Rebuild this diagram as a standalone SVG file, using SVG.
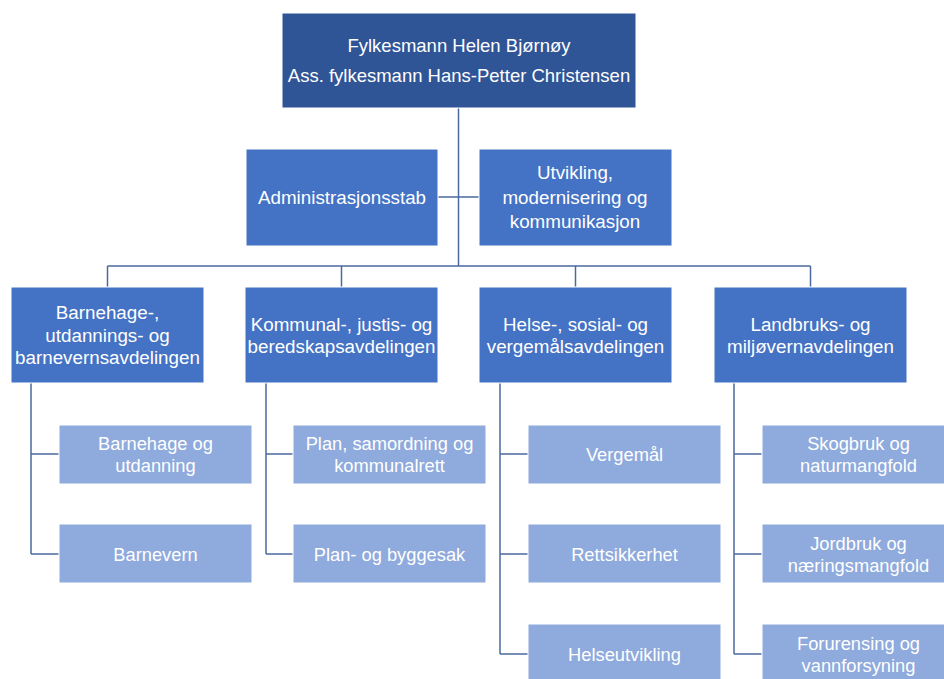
<svg xmlns="http://www.w3.org/2000/svg" width="944" height="679" viewBox="0 0 944 679">
<style>
.top{fill:#2F5597;stroke:#FFFFFF;stroke-width:1}
.dep{fill:#4472C4;stroke:#FFFFFF;stroke-width:1}
.sub{fill:#8FAADC;stroke:#FFFFFF;stroke-width:1}
.lines line{stroke:#4A6A9F;stroke-width:1.5;fill:none}
text{font-family:"Liberation Sans",Arial,sans-serif;fill:#FFFFFF;text-anchor:middle;dominant-baseline:central}
.t{font-size:18.5px}
.d{font-size:18.8px}
.s{font-size:18.3px}
</style>
<rect width="944" height="679" fill="#FFFFFF"/>
<g id="connectors" class="lines">
<line x1="458.5" y1="108" x2="458.5" y2="266"/>
<line x1="438" y1="197" x2="479" y2="197"/>
<line x1="107.5" y1="266" x2="810.5" y2="266"/>
<line x1="107.5" y1="266" x2="107.5" y2="287"/>
<line x1="341.5" y1="266" x2="341.5" y2="287"/>
<line x1="575.5" y1="266" x2="575.5" y2="287"/>
<line x1="810.5" y1="266" x2="810.5" y2="287"/>
<line x1="31" y1="383" x2="31" y2="554"/>
<line x1="31" y1="454" x2="59" y2="454"/>
<line x1="31" y1="554" x2="59" y2="554"/>
<line x1="266" y1="383" x2="266" y2="554"/>
<line x1="266" y1="454" x2="293" y2="454"/>
<line x1="266" y1="554" x2="293" y2="554"/>
<line x1="500" y1="383" x2="500" y2="654"/>
<line x1="500" y1="454" x2="528" y2="454"/>
<line x1="500" y1="554" x2="528" y2="554"/>
<line x1="500" y1="654" x2="528" y2="654"/>
<line x1="734" y1="383" x2="734" y2="654"/>
<line x1="734" y1="454" x2="762" y2="454"/>
<line x1="734" y1="554" x2="762" y2="554"/>
<line x1="734" y1="654" x2="762" y2="654"/>
</g>
<g id="n-top"><rect class="top" x="282" y="13" width="354" height="95"/>
<text class="t" x="459" y="45">Fylkesmann Helen Bjørnøy</text>
<text class="t" x="459" y="75">Ass. fylkesmann Hans-Petter Christensen</text></g>
<g id="n-admin"><rect class="dep" x="246" y="149" width="192" height="97"/>
<text class="d" x="342" y="197">Administrasjonsstab</text></g>
<g id="n-utv"><rect class="dep" x="479" y="149" width="193" height="97"/>
<text class="d" x="575" y="172">Utvikling,</text>
<text class="d" x="575" y="197">modernisering og</text>
<text class="d" x="575" y="221">kommunikasjon</text></g>
<g id="n-bua"><rect class="dep" x="11" y="287" width="193" height="96"/>
<text class="d" x="107.5" y="312">Barnehage-,</text>
<text class="d" x="107.5" y="335">utdannings- og</text>
<text class="d" x="107.5" y="357">barnevernsavdelingen</text></g>
<g id="n-kjb"><rect class="dep" x="245" y="287" width="193" height="96"/>
<text class="d" x="341.5" y="324">Kommunal-, justis- og</text>
<text class="d" x="341.5" y="346">beredskapsavdelingen</text></g>
<g id="n-hsv"><rect class="dep" x="479" y="287" width="193" height="96"/>
<text class="d" x="575.5" y="324">Helse-, sosial- og</text>
<text class="d" x="575.5" y="346">vergemålsavdelingen</text></g>
<g id="n-lmv"><rect class="dep" x="714" y="287" width="193" height="96"/>
<text class="d" x="810.5" y="324">Landbruks- og</text>
<text class="d" x="810.5" y="346">miljøvernavdelingen</text></g>
<g id="n-bu"><rect class="sub" x="59" y="425" width="193" height="59"/>
<text class="s" x="155.5" y="443">Barnehage og</text>
<text class="s" x="155.5" y="465">utdanning</text></g>
<g id="n-bv"><rect class="sub" x="59" y="524" width="193" height="59"/>
<text class="s" x="155.5" y="554">Barnevern</text></g>
<g id="n-psk"><rect class="sub" x="293" y="425" width="193" height="59"/>
<text class="s" x="389.5" y="443">Plan, samordning og</text>
<text class="s" x="389.5" y="465">kommunalrett</text></g>
<g id="n-pb"><rect class="sub" x="293" y="524" width="193" height="59"/>
<text class="s" x="389.5" y="554">Plan- og byggesak</text></g>
<g id="n-vm"><rect class="sub" x="528" y="425" width="193" height="59"/>
<text class="s" x="624.5" y="454">Vergemål</text></g>
<g id="n-rs"><rect class="sub" x="528" y="524" width="193" height="59"/>
<text class="s" x="624.5" y="554">Rettsikkerhet</text></g>
<g id="n-hu"><rect class="sub" x="528" y="624" width="193" height="59"/>
<text class="s" x="624.5" y="654">Helseutvikling</text></g>
<g id="n-sn"><rect class="sub" x="762" y="425" width="193" height="59"/>
<text class="s" x="858.5" y="443">Skogbruk og</text>
<text class="s" x="858.5" y="465">naturmangfold</text></g>
<g id="n-jn"><rect class="sub" x="762" y="524" width="193" height="59"/>
<text class="s" x="858.5" y="543">Jordbruk og</text>
<text class="s" x="858.5" y="565">næringsmangfold</text></g>
<g id="n-fv"><rect class="sub" x="762" y="624" width="193" height="59"/>
<text class="s" x="858.5" y="643">Forurensing og</text>
<text class="s" x="858.5" y="665">vannforsyning</text></g>
</svg>
